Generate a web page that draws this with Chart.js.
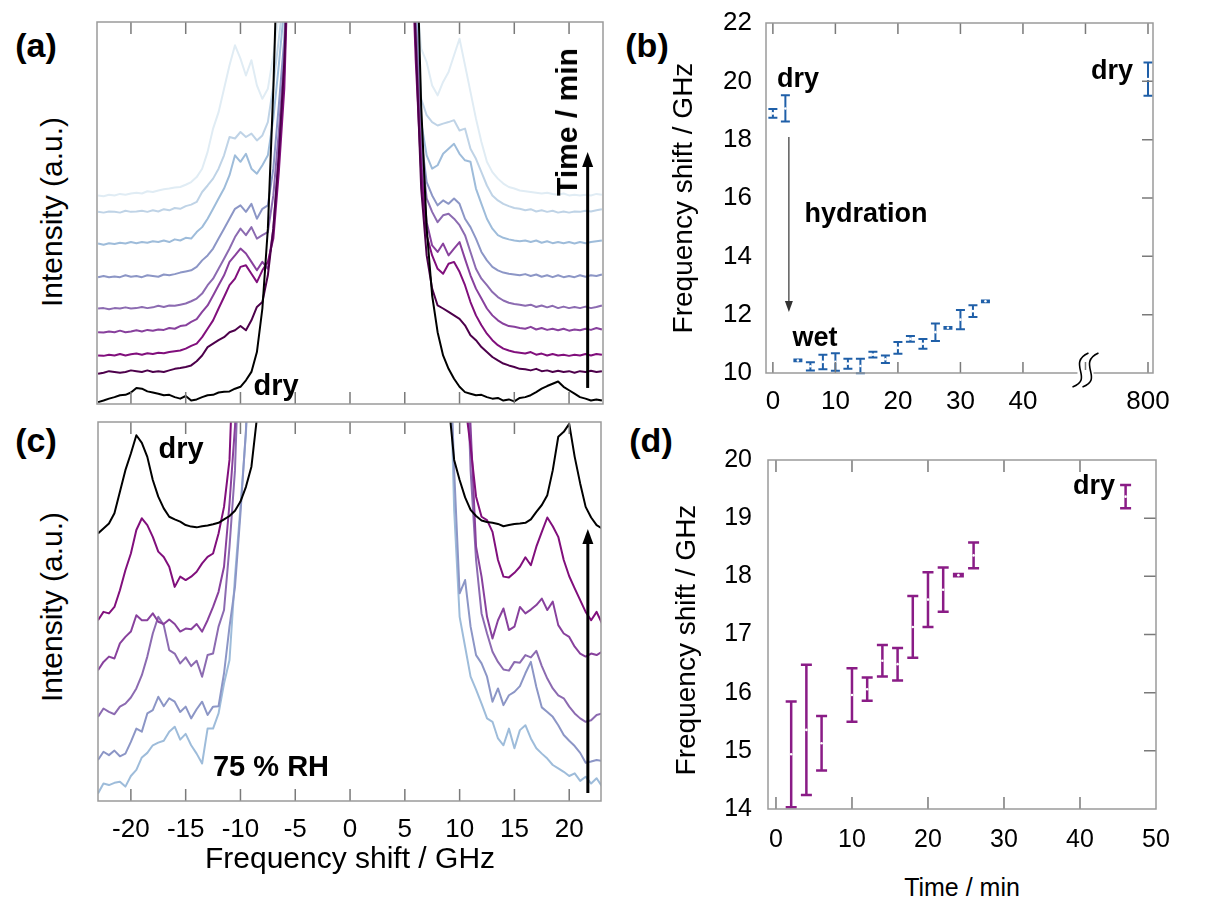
<!DOCTYPE html>
<html>
<head>
<meta charset="utf-8">
<script src="https://cdn.jsdelivr.net/npm/chart.js@4.4.0/dist/chart.umd.min.js"></script>
<style>
html,body{margin:0;padding:0;background:#fff;}
#fig{position:relative;width:1228px;height:902px;overflow:hidden;font-family:'Liberation Sans',Arial,sans-serif;color:#000;}
#fig canvas{position:absolute;}
.t{position:absolute;white-space:nowrap;line-height:1;transform:translate(-50%,-50%);}
.b{font-weight:bold;}
.v{transform:translate(-50%,-50%) rotate(-90deg);}
</style>
</head>
<body>
<div id="fig">
  <canvas id="ca" width="526" height="402" style="left:87px;top:12px"></canvas>
  <canvas id="cc" width="523" height="470" style="left:88px;top:412px"></canvas>
  <canvas id="cb" width="480" height="425" style="left:690px;top:5px"></canvas>
  <canvas id="cd" width="480" height="430" style="left:690px;top:440px"></canvas>

  <div class="t b" style="left:36px;top:45px;font-size:34px">(a)</div>
  <div class="t b" style="left:647px;top:45px;font-size:34px">(b)</div>
  <div class="t b" style="left:36px;top:440px;font-size:34px">(c)</div>
  <div class="t b" style="left:651px;top:440px;font-size:34px">(d)</div>

  <div class="t v" style="left:52px;top:212px;font-size:30px">Intensity (a.u.)</div>
  <div class="t v" style="left:52px;top:607px;font-size:30px">Intensity (a.u.)</div>
  <div class="t" style="left:350px;top:858px;font-size:30px">Frequency shift / GHz</div>
  <div class="t v" style="left:683px;top:198px;font-size:28px">Frequency shift / GHz</div>
  <div class="t v" style="left:686px;top:640px;font-size:28px">Frequency shift / GHz</div>
  <div class="t" style="left:962px;top:887px;font-size:25px">Time / min</div>

  <div class="t b" style="left:276px;top:385px;font-size:29px">dry</div>
  <div class="t b v" style="left:567px;top:122px;font-size:30px">Time / min</div>
  <div class="t b" style="left:181px;top:448px;font-size:29px">dry</div>
  <div class="t b" style="left:271px;top:766px;font-size:29px">75 % RH</div>
  <div class="t b" style="left:798px;top:78px;font-size:27px">dry</div>
  <div class="t b" style="left:1112px;top:70px;font-size:27px">dry</div>
  <div class="t b" style="left:866px;top:213px;font-size:27px">hydration</div>
  <div class="t b" style="left:815px;top:337px;font-size:27px">wet</div>
  <div class="t b" style="left:1094px;top:485px;font-size:27px">dry</div>
</div>
<script>
const FONT="'Liberation Sans', Arial, sans-serif";

// frequency grid shared by all spectra (GHz), anti-Stokes side then Stokes side
const FREQ=[-23,-22.5,-22,-21.5,-21,-20.5,-20,-19.5,-19,-18.5,-18,-17.5,-17,-16.5,-16,-15.5,-15,-14.5,-14,-13.5,-13,-12.5,-12,-11.5,-11,-10.5,-10,-9.5,-9,-8.5,-8,-7.5,-7,-6.5,-6,-5.5,
  5.5,6,6.5,7,7.5,8,8.5,9,9.5,10,10.5,11,11.5,12,12.5,13,13.5,14,14.5,15,15.5,16,16.5,17,17.5,18,18.5,19,19.5,20,20.5,21,21.5,22,22.5,23];
const FREQ_TICKS=[-20,-15,-10,-5,0,5,10,15,20];

// (a) spectra, offset, intensity in a.u. (values >100 are the off-scale elastic peak)
const A_DRY=[0.5,0.9,1.4,1.8,2.3,2.4,3.0,4.2,4.0,3.3,3.0,2.7,2.3,2.4,1.8,1.4,2.1,0.9,1.2,1.8,2.3,2.4,3.0,3.2,3.3,4.0,4.5,6.2,8.4,13.6,25.0,45.9,82.5,130,130,130,
  130,130,78,46,28.4,18.8,12.7,9.2,6.6,4.5,3.1,2.7,2.3,2.4,1.8,1.4,1.6,0.9,1.2,0.7,1.6,1.8,2.3,3.1,4.0,4.7,5.3,5.9,4.5,3.6,2.7,1.8,1.4,0.9,1.2,0.9];
const A_T1=[7.9,8.2,8.6,8.4,8.2,8.4,8.8,8.6,8.4,8.8,8.4,8.6,8.4,8.8,9.2,9.4,9.7,10.1,11.2,12.7,14.9,15.8,16.7,17.5,18.8,19.3,20.4,19.3,21.9,25.4,26.7,33.7,45.9,65.1,89.5,130,
  130,95,56.4,38.9,30.2,25.8,25.0,24.1,23.2,22.3,20.6,18.0,16.7,14.9,13.6,12.3,11.4,10.6,10.1,9.7,9.2,9.1,8.8,9.2,8.6,8.8,8.4,8.7,8.4,8.6,8.2,8.6,8.4,8.7,8.4,8.6];
const A_T2=[12.7,12.6,12.9,12.7,13.1,12.7,13.0,13.2,12.9,13.3,13.1,13.4,13.3,13.6,13.8,14.0,14.5,15.2,15.8,17.5,19.7,21.9,25.0,28.0,31.1,32.8,35.9,36.3,34.1,31.9,35.0,37.2,43.3,60.7,82.5,130,
  130,90,60.7,44.2,38.9,35.4,34.1,36.7,37.2,34.6,31.1,26.7,23.2,20.6,18.4,16.7,15.4,14.5,14.0,13.6,13.4,13.2,13.6,12.9,13.2,12.7,13.1,12.7,12.9,12.6,12.9,12.7,13.1,12.7,13.1,12.9];
const A_T3=[18.8,18.7,19.0,18.8,19.2,18.8,19.0,19.3,19.0,19.4,19.2,19.5,19.4,19.9,19.7,20.4,20.6,21.5,22.2,24.1,25.8,28.4,31.1,33.7,37.2,38.9,40.7,39.4,37.2,35.0,37.2,35.4,45.9,65.1,86.9,130,
  130,95,63.4,47.6,41.5,39.8,42.0,38.9,40.7,42.4,38.0,33.7,30.2,27.6,25.0,23.2,21.9,21.0,20.4,20.2,19.9,19.7,20.2,19.5,19.9,19.4,19.7,19.3,19.7,19.2,19.5,19.3,19.7,19.4,19.9,19.5];
const A_T4=[25.0,25.1,24.8,25.1,25.0,25.3,25.0,25.1,25.4,25.1,25.3,25.7,25.4,25.8,25.7,26.0,26.3,26.9,27.6,28.9,31.1,32.8,35.4,38.0,40.7,43.7,45.9,44.2,46.3,43.3,44.2,45.0,54.6,71.2,91.3,130,
  130,100,66.8,53.8,50.3,47.6,49.4,49.8,48.5,46.8,44.2,39.8,35.4,32.8,31.1,29.3,28.0,27.1,26.5,26.2,26.0,25.7,26.0,25.4,25.8,25.3,25.7,25.1,25.5,25.1,25.4,25.1,25.5,25.1,25.4,25.8];
const A_T5=[33.2,33.5,33.2,33.4,33.2,33.7,33.3,33.5,33.2,33.7,33.5,33.3,33.9,33.7,34.0,34.4,34.7,35.0,35.9,37.6,38.9,40.7,43.3,45.9,48.5,51.1,52.0,50.3,52.4,48.5,51.1,52.0,61.6,78.2,95.6,130,
  130,100,69.5,58.1,54.6,52.0,53.3,52.4,53.8,52.4,48.5,46.3,43.3,39.8,37.6,35.9,35.0,34.4,34.1,33.9,33.7,34.0,33.5,33.9,33.3,33.7,33.2,33.7,33.2,33.5,33.2,33.7,33.3,33.7,33.5,33.9];
const A_T6=[42.0,41.7,42.1,41.9,42.2,42.0,42.4,42.1,42.4,42.2,42.6,42.4,42.8,42.4,43.1,42.8,43.5,43.3,45.0,46.3,48.5,51.1,53.8,56.4,59.9,65.1,63.4,65.5,61.6,60.3,62.5,65.1,74.7,88.7,104,130,
  130,105,73.8,65.1,61.6,62.5,65.5,66.8,68.1,65.5,63.8,63.4,56.4,52.4,48.5,45.9,44.2,43.5,43.1,42.8,42.6,42.8,42.4,42.8,42.2,42.6,42.1,42.4,42.1,42.4,42.0,42.4,42.1,42.4,42.6,42.8];
const A_T7=[50.3,50.1,50.4,50.3,50.1,50.6,50.3,50.4,50.6,50.3,50.7,50.4,51.0,50.7,51.3,51.1,51.8,52.2,52.9,55.5,57.2,59.0,61.6,65.1,69.9,69.5,71.2,69.9,70.8,69.0,70.3,73.8,83.4,95.6,108,130,
  130,105,79.9,75.6,73.8,72.9,73.4,73.8,74.3,71.6,72.1,66.8,64.2,60.7,57.2,54.6,53.3,52.4,51.8,51.3,51.1,50.7,51.0,50.4,50.7,50.3,50.6,50.1,50.4,50.1,50.4,50.3,50.6,50.4,50.7,51.0];
const A_T8=[54.6,54.4,54.8,54.6,55.0,54.8,55.1,55.3,55.1,55.7,55.5,55.9,56.2,56.4,56.7,56.8,57.4,58.1,59.4,61.6,66.0,72.1,76.4,82.5,88.7,93.9,90.4,86.0,90.0,83.4,79.9,82.5,91.3,102,110,130,
  130,110,93.0,89.5,83.4,80.8,84.3,86.9,91.3,95.6,88.7,81.7,74.7,68.6,63.4,60.7,59.0,57.7,56.8,56.4,55.9,55.7,55.5,55.3,55.1,55.3,55.0,54.8,55.1,54.6,54.8,54.6,54.8,54.6,55.0,54.8];
const A_COLORS=['#000000','#4d004b','#810f7c','#88419d','#8c6bb1','#8c96c6','#9ebcda','#bfd3e6','#e0ecf4'];

// (c) spectra, dry on top, 75 % RH at the bottom
const C_DRY=[70.6,71.9,73.2,75.9,81.6,87.3,91.7,96.5,94.5,90.8,84.7,80.3,77.2,75.0,74.3,73.7,72.8,72.4,72.2,72.5,72.7,73.0,73.4,74.3,75.2,76.6,79.0,82.9,88.2,101,130,130,130,130,130,130,
  130,130,130,130,130,130,130,105,90.0,84.7,80.1,76.8,75.2,74.0,73.6,73.4,73.1,72.5,72.8,73.1,73.2,73.4,74.3,76.3,78.1,80.7,87.3,96.1,97.4,99.5,90.8,83.8,77.6,74.8,72.8,71.9];
const C_T1=[47.7,49.9,49.5,51.2,55.6,60.9,65.3,71.5,74.6,72.8,69.7,65.8,64.4,61.8,56.5,59.2,58.3,59.2,60.5,62.7,64.4,65.3,70.6,77.6,90.0,130,130,130,130,130,130,130,130,130,130,130,
  130,130,130,130,130,130,130,130,130,130,105,93.5,80.3,75.0,74.1,71.0,63.6,59.2,59.0,60.2,61.8,64.3,62.2,67.1,71.0,74.8,72.5,69.7,63.6,59.3,56.1,53.0,49.9,47.7,49.9,46.8];
const C_T2=[34.5,36.7,38.1,37.6,41.6,43.3,44.7,49.0,47.7,47.7,49.5,47.3,46.7,47.9,46.7,44.7,45.5,45.3,46.7,44.7,47.7,51.2,55.2,61.8,78.5,98.7,130,130,130,130,130,130,130,130,130,130,
  130,130,130,130,130,130,130,130,130,130,130,98.7,67.1,59.2,48.6,42.9,47.7,50.8,45.1,46.0,51.2,49.5,50.5,51.7,53.4,50.4,52.6,46.4,44.2,43.3,40.7,38.9,38.1,38.9,38.5,39.4];
const C_T3=[22.2,24.4,23.5,22.9,24.9,25.7,27.3,29.7,33.2,38.1,44.2,48.6,46.4,39.8,38.9,36.3,37.9,35.6,37.0,32.8,38.5,38.9,46.0,50.4,67.1,87.3,130,130,130,130,130,130,130,130,130,130,
  130,130,130,130,130,130,130,130,130,130,130,87.3,63.6,49.5,44.2,39.4,36.7,34.7,34.4,36.7,36.5,38.5,37.9,39.6,35.6,32.3,29.7,27.9,27.1,24.9,23.1,21.8,20.9,21.3,22.7,23.1];
const C_T4=[10.8,13.0,12.1,13.3,11.8,12.5,15.6,19.1,18.3,23.1,24.0,27.5,25.0,27.1,26.2,23.5,24.9,21.8,24.2,26.2,22.7,24.9,25.0,33.7,46.0,56.5,75.9,97.9,130,130,130,130,130,130,130,130,
  130,130,130,130,130,130,130,130,87.3,54.8,58.3,46.0,38.5,36.3,32.8,26.2,29.7,25.3,27.9,28.8,30.3,33.7,36.7,30.1,24.7,23.5,22.2,20.0,17.4,15.9,14.5,12.7,10.1,10.4,10.8,10.6];
const C_T5=[2.0,4.6,4.2,4.8,5.1,3.8,6.6,8.2,11.5,12.7,14.7,15.4,15.9,18.3,19.6,16.2,17.7,14.7,12.5,9.9,19.1,19.1,23.1,31.0,37.2,59.2,77.6,97.0,130,130,130,130,130,130,130,130,
  130,130,130,130,130,130,130,130,76.8,48.6,40.7,32.8,29.4,25.7,21.8,20.9,16.5,14.7,19.1,13.9,18.7,20.0,16.5,13.9,12.5,11.2,9.5,8.6,7.7,6.6,7.3,5.3,6.4,4.6,6.0,3.8];
const C_COLORS=['#000000','#810f7c','#88419d','#8c6bb1','#8c96c6','#9ebcda'];

// (b) peak position during hydration, time in min (800 = dried again)
const B_TIME=[0,2,4,6,8,10,12,14,16,18,20,22,24,26,28,30,32,34,800];
const B_SHIFT=[18.9,19.07,10.43,10.23,10.38,10.38,10.32,10.24,10.63,10.47,10.86,11.17,11.0,11.4,11.55,11.83,12.12,12.46,20.08];
const B_ERR=[0.15,0.45,0.03,0.14,0.25,0.3,0.17,0.25,0.1,0.13,0.2,0.1,0.17,0.3,0.03,0.33,0.2,0.03,0.57];
const B_XTICKS=[0,10,20,30,40,50,60];
const B_XLABELS=['0','10','20','30','40','','800'];

// (d) peak position at 75 % RH
const D_TIME=[2,4,6,10,12,14,16,18,20,22,24,26,46];
const D_SHIFT=[14.94,15.36,15.13,15.96,16.06,16.55,16.49,17.13,17.6,17.77,18.02,18.36,19.37];
const D_ERR=[0.91,1.12,0.47,0.46,0.2,0.27,0.28,0.53,0.47,0.38,0.02,0.22,0.2];
const D_XTICKS=[0,10,20,30,40,50];

// broken time axis in (b): 800 min is drawn where 60 would be
function breakTime(t){return t>50?60+(t-800):t;}

const framePlugin={
  id:'frame',
  afterDatasetsDraw(chart,args,opts){
    const {ctx,chartArea:a,scales:{x,y}}=chart;
    ctx.save();
    ctx.strokeStyle='#7a7a7a';
    ctx.lineWidth=1.5;
    ctx.beginPath();
    (opts.xTicks||[]).forEach(v=>{
      const px=x.getPixelForValue(v);
      ctx.moveTo(px,a.top);ctx.lineTo(px,a.top+opts.len);
      ctx.moveTo(px,a.bottom);ctx.lineTo(px,a.bottom-opts.len);
    });
    (opts.yTicks||[]).forEach(v=>{
      const py=y.getPixelForValue(v);
      ctx.moveTo(a.right,py);ctx.lineTo(a.right-opts.len,py);
    });
    ctx.stroke();
    ctx.strokeStyle='#9a9a9a';
    ctx.strokeRect(a.left,a.top,a.right-a.left,a.bottom-a.top);
    if(opts.breakAt!==undefined){
      const px=x.getPixelForValue(opts.breakAt),b=a.bottom;
      ctx.fillStyle='#fff';
      ctx.fillRect(px-8,b-3,16,6);
      ctx.strokeStyle='#000';
      ctx.lineWidth=1.6;
      [-5,5].forEach(d=>{
        ctx.beginPath();
        ctx.moveTo(px+d-8,b+14);
        ctx.bezierCurveTo(px+d+14,b+6,px+d-14,b-10,px+d+8,b-20);
        ctx.stroke();
      });
    }
    ctx.restore();
  }
};

const arrowPlugin={
  id:'arrows',
  afterDatasetsDraw(chart,args,opts){
    const {ctx,scales:{x,y}}=chart;
    (opts.list||[]).forEach(a=>{
      const px=x.getPixelForValue(a.x),y0=y.getPixelForValue(a.from),y1=y.getPixelForValue(a.to);
      const dir=Math.sign(y1-y0);
      ctx.save();
      ctx.strokeStyle=a.color;ctx.fillStyle=a.color;ctx.lineWidth=a.width;
      ctx.beginPath();ctx.moveTo(px,y0);ctx.lineTo(px,y1-dir*a.headL*0.6);ctx.stroke();
      ctx.beginPath();ctx.moveTo(px,y1);
      ctx.lineTo(px-a.headW/2,y1-dir*a.headL);ctx.lineTo(px+a.headW/2,y1-dir*a.headL);
      ctx.closePath();ctx.fill();
      ctx.restore();
    });
  }
};

const errorBarPlugin={
  id:'errorBars',
  beforeDatasetsDraw(chart,args,opts){
    const {ctx,scales:{x,y}}=chart;
    chart.data.datasets.forEach(ds=>{
      if(!ds.errors)return;
      ctx.save();
      ctx.strokeStyle=ds.borderColor;ctx.lineWidth=opts.width;
      ds.data.forEach((p,i)=>{
        const px=x.getPixelForValue(p.x);
        const top=y.getPixelForValue(p.y+ds.errors[i]),bot=y.getPixelForValue(p.y-ds.errors[i]);
        ctx.beginPath();
        ctx.moveTo(px,top);ctx.lineTo(px,bot);
        ctx.moveTo(px-opts.cap,top);ctx.lineTo(px+opts.cap,top);
        ctx.moveTo(px-opts.cap,bot);ctx.lineTo(px+opts.cap,bot);
        ctx.stroke();
      });
      ctx.restore();
    });
  }
};

function spectra(curves,colors){
  return curves.map((ys,i)=>({
    data:ys.map((v,j)=>({x:FREQ[j],y:v})),
    borderColor:colors[i],
    borderWidth:2,
    borderJoinStyle:'round',
    pointRadius:0,
    tension:0,
    fill:false
  }));
}

// label gap is set through an invisible tick length so that it does not inflate the layout padding
function gap(len){return {display:false,drawTicks:true,tickLength:len};}
const hidden={display:false};
const common={responsive:false,animation:false,events:[]};

new Chart(document.getElementById('ca'),{
  type:'line',
  data:{datasets:spectra([A_DRY,A_T1,A_T2,A_T3,A_T4,A_T5,A_T6,A_T7,A_T8],A_COLORS)},
  options:{...common,
    layout:{padding:10},
    scales:{x:{type:'linear',min:-23.1,max:23.1,...hidden},y:{min:0,max:100,...hidden}},
    plugins:{legend:hidden,tooltip:{enabled:false},
      frame:{xTicks:FREQ_TICKS,len:12},
      arrows:{list:[{x:21.7,from:4.2,to:66,color:'#000',width:3,headW:11,headL:15}]}}
  },
  plugins:[framePlugin,arrowPlugin]
});

new Chart(document.getElementById('cc'),{
  type:'line',
  data:{datasets:spectra([C_DRY,C_T1,C_T2,C_T3,C_T4,C_T5],C_COLORS)},
  options:{...common,
    layout:{padding:{top:10,left:10,right:10,bottom:0}},
    scales:{
      x:{type:'linear',min:-23.0,max:22.9,
        afterBuildTicks:s=>{s.ticks=FREQ_TICKS.map(v=>({value:v}));},
        afterFit:s=>{s.height=81;},
        ticks:{autoSkip:false,maxRotation:0,padding:0,color:'#000',font:{family:FONT,size:26}},
        grid:gap(13),border:hidden},
      y:{min:0,max:100,...hidden}
    },
    plugins:{legend:hidden,tooltip:{enabled:false},
      frame:{xTicks:FREQ_TICKS,len:12},
      arrows:{list:[{x:21.7,from:2.1,to:71.8,color:'#000',width:3,headW:11,headL:15}]}}
  },
  plugins:[framePlugin,arrowPlugin]
});

new Chart(document.getElementById('cb'),{
  type:'scatter',
  data:{datasets:[{
    data:B_TIME.map((t,i)=>({x:breakTime(t),y:B_SHIFT[i]})),
    errors:B_ERR,
    borderColor:'#1f5fa8',
    backgroundColor:'#ffffff',
    pointRadius:1.3,
    pointBorderWidth:0
  }]},
  options:{...common,
    layout:{padding:{top:18,right:17,left:0,bottom:0}},
    scales:{
      x:{type:'linear',min:-1.1,max:60.8,
        afterBuildTicks:s=>{s.ticks=B_XTICKS.map(v=>({value:v}));},
        afterFit:s=>{s.height=57;},
        ticks:{autoSkip:false,maxRotation:0,padding:0,color:'#000',font:{family:FONT,size:26},
          callback:(v,i)=>B_XLABELS[i]},
        grid:gap(13.6),border:hidden},
      y:{min:10,max:22,
        afterFit:s=>{s.width=76;},
        ticks:{stepSize:2,padding:0,color:'#000',font:{family:FONT,size:26}},
        grid:gap(14),border:hidden}
    },
    plugins:{legend:hidden,tooltip:{enabled:false},
      errorBars:{width:2,cap:4.5},
      frame:{xTicks:B_XTICKS,yTicks:[12,14,16,18,20],len:11,breakAt:50},
      arrows:{list:[{x:2.56,from:18.09,to:12.09,color:'#333',width:1.2,headW:8,headL:11}]}}
  },
  plugins:[errorBarPlugin,framePlugin,arrowPlugin]
});

new Chart(document.getElementById('cd'),{
  type:'scatter',
  data:{datasets:[{
    data:D_TIME.map((t,i)=>({x:t,y:D_SHIFT[i]})),
    errors:D_ERR,
    borderColor:'#8a1c86',
    backgroundColor:'#ffffff',
    pointRadius:1.3,
    pointBorderWidth:0
  }]},
  options:{...common,
    layout:{padding:{top:20,right:14,left:0,bottom:0}},
    scales:{
      x:{type:'linear',min:-1.05,max:50,
        afterBuildTicks:s=>{s.ticks=D_XTICKS.map(v=>({value:v}));},
        afterFit:s=>{s.height=61;},
        ticks:{autoSkip:false,maxRotation:0,padding:0,color:'#000',font:{family:FONT,size:25}},
        grid:gap(16),border:hidden},
      y:{min:14,max:20,
        afterFit:s=>{s.width=78;},
        ticks:{stepSize:1,padding:0,color:'#000',font:{family:FONT,size:25}},
        grid:gap(16),border:hidden}
    },
    plugins:{legend:hidden,tooltip:{enabled:false},
      errorBars:{width:2.5,cap:5.5},
      frame:{xTicks:[0,10,20,30,40],yTicks:[15,16,17,18,19],len:12}}
  },
  plugins:[errorBarPlugin,framePlugin]
});
</script>
</body>
</html>
